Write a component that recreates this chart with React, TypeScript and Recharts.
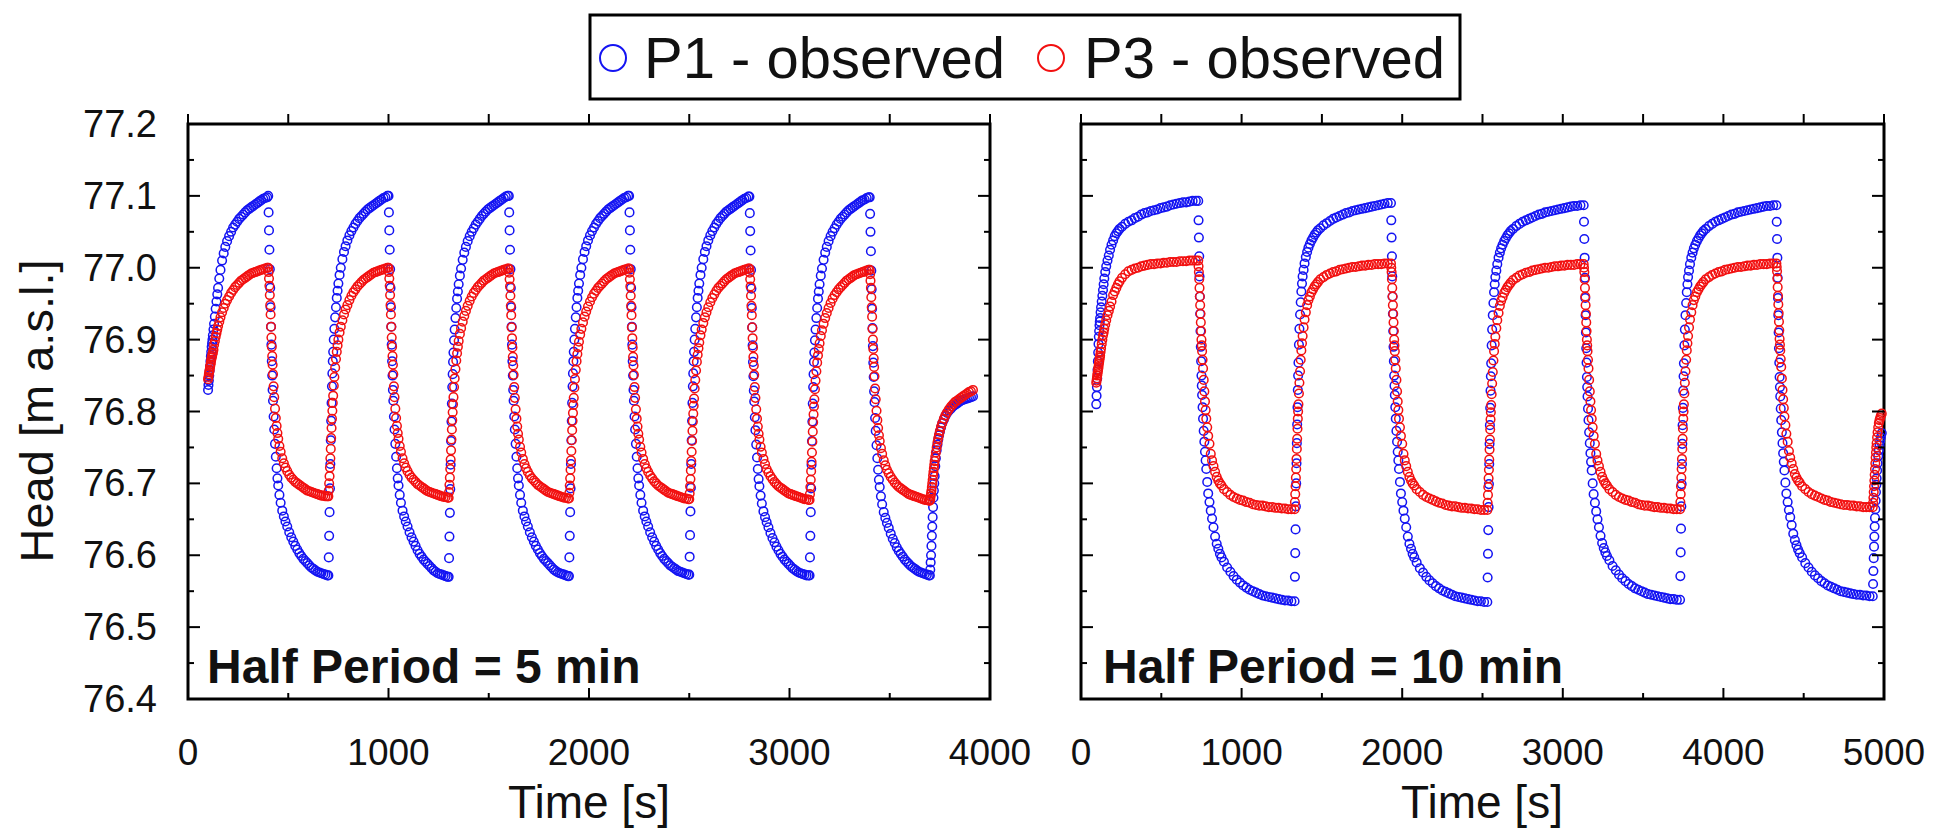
import React from "react"
import { ScatterChart, Scatter, XAxis, YAxis, ReferenceArea } from "recharts"

// sample times (s) inside each half period, left panel (half period = 300 s)
const leftTau = [0, 2, 4, 6, 8, 10, 12, 14, 16, 18, 20, 22, 24, 27, 30, 34, 38, 42, 46, 50, 56, 62, 70, 78, 86, 95, 105, 115, 125, 135, 145, 155, 165, 175, 185, 195, 205, 215, 225, 235, 245, 255, 265, 275, 285, 295]
const leftStarts = [100, 400, 700, 1000, 1300, 1600, 1900, 2200, 2500, 2800, 3100, 3400, 3700]

const leftP1 = [
  [76.83, 76.837, 76.843, 76.85, 76.857, 76.863, 76.87, 76.877, 76.883, 76.89, 76.895, 76.9, 76.906, 76.914, 76.922, 76.932, 76.943, 76.953, 76.963, 76.972, 76.985, 76.997, 77.01, 77.02, 77.029, 77.037, 77.044, 77.05, 77.056, 77.06, 77.064, 77.068, 77.071, 77.074, 77.077, 77.08, 77.082, 77.084, 77.086, 77.088, 77.09, 77.092, 77.094, 77.096, 77.097, 77.098],
  [77.1, 77.077, 77.052, 77.025, 76.998, 76.972, 76.945, 76.918, 76.893, 76.87, 76.85, 76.83, 76.815, 76.793, 76.775, 76.755, 76.737, 76.721, 76.707, 76.697, 76.684, 76.673, 76.662, 76.654, 76.647, 76.64, 76.632, 76.625, 76.619, 76.613, 76.608, 76.603, 76.599, 76.595, 76.592, 76.589, 76.586, 76.583, 76.581, 76.579, 76.577, 76.576, 76.575, 76.574, 76.573, 76.572],
  [76.572, 76.597, 76.627, 76.66, 76.693, 76.727, 76.76, 76.787, 76.812, 76.835, 76.853, 76.87, 76.883, 76.9, 76.915, 76.931, 76.945, 76.958, 76.968, 76.978, 76.99, 77.0, 77.012, 77.022, 77.03, 77.038, 77.045, 77.051, 77.056, 77.061, 77.065, 77.069, 77.072, 77.075, 77.078, 77.081, 77.083, 77.085, 77.087, 77.089, 77.091, 77.093, 77.095, 77.097, 77.098, 77.1],
  [77.1, 77.077, 77.052, 77.025, 76.998, 76.972, 76.945, 76.918, 76.893, 76.87, 76.85, 76.83, 76.815, 76.793, 76.775, 76.755, 76.737, 76.721, 76.707, 76.697, 76.684, 76.673, 76.662, 76.654, 76.647, 76.64, 76.632, 76.625, 76.619, 76.613, 76.607, 76.602, 76.598, 76.594, 76.591, 76.588, 76.585, 76.582, 76.579, 76.577, 76.575, 76.574, 76.573, 76.572, 76.571, 76.57],
  [76.57, 76.596, 76.626, 76.659, 76.692, 76.726, 76.759, 76.786, 76.811, 76.834, 76.852, 76.869, 76.882, 76.899, 76.914, 76.93, 76.944, 76.957, 76.967, 76.977, 76.989, 76.999, 77.011, 77.021, 77.029, 77.037, 77.044, 77.05, 77.055, 77.06, 77.064, 77.068, 77.072, 77.075, 77.078, 77.081, 77.083, 77.085, 77.087, 77.089, 77.091, 77.093, 77.095, 77.097, 77.099, 77.1],
  [77.1, 77.077, 77.052, 77.025, 76.998, 76.972, 76.945, 76.918, 76.893, 76.87, 76.85, 76.83, 76.815, 76.793, 76.775, 76.755, 76.737, 76.721, 76.707, 76.697, 76.684, 76.673, 76.662, 76.654, 76.647, 76.64, 76.632, 76.625, 76.619, 76.613, 76.608, 76.603, 76.599, 76.595, 76.592, 76.589, 76.586, 76.583, 76.58, 76.578, 76.576, 76.575, 76.574, 76.573, 76.572, 76.571],
  [76.571, 76.597, 76.627, 76.66, 76.693, 76.727, 76.76, 76.787, 76.812, 76.835, 76.853, 76.87, 76.883, 76.9, 76.915, 76.931, 76.945, 76.958, 76.968, 76.978, 76.99, 77.0, 77.012, 77.022, 77.03, 77.038, 77.045, 77.051, 77.056, 77.061, 77.065, 77.069, 77.072, 77.075, 77.078, 77.081, 77.083, 77.085, 77.087, 77.089, 77.091, 77.093, 77.095, 77.097, 77.098, 77.1],
  [77.1, 77.077, 77.052, 77.025, 76.998, 76.972, 76.945, 76.918, 76.893, 76.87, 76.85, 76.83, 76.815, 76.793, 76.775, 76.755, 76.737, 76.721, 76.707, 76.697, 76.684, 76.673, 76.662, 76.654, 76.647, 76.64, 76.632, 76.625, 76.619, 76.613, 76.608, 76.603, 76.599, 76.595, 76.592, 76.589, 76.586, 76.584, 76.582, 76.58, 76.578, 76.577, 76.576, 76.575, 76.574, 76.573],
  [76.573, 76.598, 76.628, 76.661, 76.694, 76.727, 76.76, 76.787, 76.812, 76.835, 76.853, 76.87, 76.883, 76.9, 76.915, 76.931, 76.945, 76.958, 76.968, 76.978, 76.99, 77.0, 77.012, 77.022, 77.03, 77.038, 77.045, 77.051, 77.056, 77.061, 77.065, 77.069, 77.072, 77.075, 77.078, 77.08, 77.082, 77.084, 77.086, 77.088, 77.09, 77.092, 77.094, 77.096, 77.097, 77.099],
  [77.099, 77.076, 77.051, 77.024, 76.997, 76.971, 76.944, 76.917, 76.892, 76.869, 76.849, 76.829, 76.814, 76.792, 76.774, 76.754, 76.736, 76.72, 76.706, 76.696, 76.683, 76.672, 76.661, 76.653, 76.646, 76.639, 76.631, 76.624, 76.618, 76.612, 76.607, 76.602, 76.598, 76.594, 76.591, 76.588, 76.585, 76.582, 76.58, 76.578, 76.576, 76.575, 76.574, 76.573, 76.572, 76.572],
  [76.572, 76.597, 76.627, 76.66, 76.693, 76.726, 76.759, 76.786, 76.811, 76.834, 76.852, 76.869, 76.882, 76.899, 76.914, 76.93, 76.944, 76.957, 76.967, 76.977, 76.989, 76.999, 77.011, 77.021, 77.029, 77.037, 77.044, 77.05, 77.055, 77.06, 77.064, 77.068, 77.071, 77.074, 77.077, 77.08, 77.082, 77.084, 77.086, 77.088, 77.09, 77.092, 77.094, 77.095, 77.097, 77.098],
  [77.098, 77.075, 77.05, 77.023, 76.996, 76.97, 76.943, 76.916, 76.891, 76.868, 76.848, 76.828, 76.813, 76.791, 76.773, 76.753, 76.735, 76.719, 76.705, 76.695, 76.682, 76.671, 76.66, 76.652, 76.645, 76.638, 76.63, 76.623, 76.617, 76.611, 76.606, 76.602, 76.598, 76.594, 76.591, 76.588, 76.585, 76.583, 76.581, 76.579, 76.577, 76.576, 76.575, 76.574, 76.573, 76.572],
  [76.572, 76.58, 76.59, 76.6, 76.613, 76.627, 76.64, 76.653, 76.667, 76.68, 76.69, 76.7, 76.71, 76.724, 76.735, 76.746, 76.754, 76.761, 76.767, 76.772, 76.778, 76.784, 76.789, 76.794, 76.798, 76.801, 76.804, 76.807, 76.809, 76.811, 76.813, 76.815, 76.816, 76.817, 76.818, 76.819, 76.82, 76.821],
]

const leftP3 = [
  [76.845, 76.848, 76.852, 76.855, 76.858, 76.862, 76.865, 76.868, 76.872, 76.875, 76.877, 76.88, 76.882, 76.886, 76.893, 76.898, 76.904, 76.909, 76.914, 76.919, 76.925, 76.931, 76.938, 76.944, 76.95, 76.955, 76.96, 76.965, 76.969, 76.973, 76.976, 76.979, 76.982, 76.984, 76.986, 76.988, 76.99, 76.992, 76.993, 76.994, 76.995, 76.996, 76.997, 76.998, 76.999, 77.0],
  [77.0, 76.994, 76.985, 76.975, 76.962, 76.948, 76.935, 76.918, 76.903, 76.89, 76.877, 76.865, 76.852, 76.835, 76.82, 76.804, 76.791, 76.78, 76.77, 76.762, 76.752, 76.744, 76.735, 76.728, 76.722, 76.717, 76.712, 76.708, 76.705, 76.702, 76.7, 76.698, 76.696, 76.694, 76.692, 76.69, 76.689, 76.688, 76.687, 76.686, 76.685, 76.684, 76.683, 76.683, 76.682, 76.682],
  [76.682, 76.69, 76.7, 76.71, 76.722, 76.735, 76.748, 76.763, 76.777, 76.79, 76.801, 76.812, 76.822, 76.836, 76.848, 76.861, 76.873, 76.883, 76.892, 76.9, 76.91, 76.918, 76.927, 76.935, 76.942, 76.948, 76.955, 76.961, 76.966, 76.97, 76.974, 76.977, 76.98, 76.983, 76.985, 76.987, 76.989, 76.991, 76.993, 76.994, 76.995, 76.996, 76.997, 76.998, 76.999, 77.0],
  [77.0, 76.994, 76.985, 76.975, 76.962, 76.948, 76.935, 76.918, 76.903, 76.89, 76.877, 76.865, 76.852, 76.835, 76.82, 76.804, 76.791, 76.78, 76.77, 76.762, 76.752, 76.744, 76.735, 76.728, 76.722, 76.717, 76.712, 76.708, 76.705, 76.702, 76.699, 76.697, 76.695, 76.693, 76.691, 76.689, 76.688, 76.687, 76.686, 76.685, 76.684, 76.683, 76.682, 76.681, 76.681, 76.68],
  [76.68, 76.688, 76.698, 76.708, 76.72, 76.733, 76.746, 76.761, 76.775, 76.788, 76.799, 76.81, 76.82, 76.834, 76.846, 76.859, 76.871, 76.881, 76.89, 76.898, 76.908, 76.916, 76.925, 76.933, 76.94, 76.947, 76.954, 76.96, 76.965, 76.969, 76.973, 76.976, 76.979, 76.982, 76.984, 76.986, 76.988, 76.99, 76.992, 76.993, 76.994, 76.995, 76.996, 76.997, 76.998, 76.999],
  [76.999, 76.993, 76.984, 76.974, 76.961, 76.947, 76.934, 76.917, 76.902, 76.889, 76.876, 76.864, 76.851, 76.834, 76.819, 76.803, 76.79, 76.779, 76.769, 76.761, 76.751, 76.743, 76.734, 76.727, 76.721, 76.716, 76.711, 76.707, 76.704, 76.701, 76.698, 76.696, 76.694, 76.692, 76.69, 76.688, 76.687, 76.686, 76.685, 76.684, 76.683, 76.682, 76.681, 76.68, 76.68, 76.679],
  [76.679, 76.687, 76.697, 76.707, 76.719, 76.732, 76.745, 76.76, 76.774, 76.787, 76.798, 76.809, 76.819, 76.833, 76.845, 76.858, 76.87, 76.88, 76.889, 76.897, 76.907, 76.915, 76.924, 76.932, 76.939, 76.946, 76.953, 76.959, 76.964, 76.968, 76.972, 76.975, 76.978, 76.981, 76.984, 76.986, 76.988, 76.99, 76.992, 76.993, 76.994, 76.995, 76.996, 76.997, 76.998, 76.999],
  [76.999, 76.993, 76.984, 76.974, 76.961, 76.947, 76.934, 76.917, 76.902, 76.889, 76.876, 76.864, 76.851, 76.834, 76.819, 76.803, 76.79, 76.779, 76.769, 76.761, 76.751, 76.743, 76.734, 76.727, 76.721, 76.716, 76.711, 76.707, 76.703, 76.7, 76.697, 76.695, 76.693, 76.691, 76.689, 76.687, 76.686, 76.685, 76.684, 76.683, 76.682, 76.681, 76.68, 76.679, 76.679, 76.678],
  [76.678, 76.686, 76.696, 76.706, 76.718, 76.731, 76.744, 76.759, 76.773, 76.786, 76.797, 76.808, 76.818, 76.832, 76.844, 76.857, 76.869, 76.879, 76.888, 76.896, 76.906, 76.914, 76.923, 76.931, 76.938, 76.945, 76.952, 76.958, 76.963, 76.968, 76.972, 76.975, 76.978, 76.981, 76.984, 76.986, 76.988, 76.99, 76.992, 76.993, 76.994, 76.995, 76.996, 76.997, 76.998, 76.999],
  [76.999, 76.993, 76.984, 76.974, 76.961, 76.947, 76.934, 76.917, 76.902, 76.889, 76.876, 76.864, 76.851, 76.834, 76.819, 76.803, 76.79, 76.779, 76.769, 76.761, 76.751, 76.743, 76.734, 76.727, 76.72, 76.715, 76.71, 76.706, 76.702, 76.699, 76.696, 76.694, 76.692, 76.69, 76.688, 76.686, 76.685, 76.684, 76.683, 76.682, 76.681, 76.68, 76.679, 76.678, 76.678, 76.677],
  [76.677, 76.685, 76.695, 76.705, 76.717, 76.73, 76.743, 76.758, 76.772, 76.785, 76.796, 76.807, 76.817, 76.831, 76.843, 76.856, 76.868, 76.878, 76.887, 76.895, 76.905, 76.913, 76.922, 76.93, 76.937, 76.944, 76.951, 76.957, 76.962, 76.966, 76.97, 76.973, 76.976, 76.979, 76.982, 76.984, 76.986, 76.988, 76.99, 76.991, 76.992, 76.993, 76.994, 76.995, 76.996, 76.997],
  [76.997, 76.991, 76.982, 76.972, 76.959, 76.945, 76.932, 76.915, 76.9, 76.887, 76.874, 76.862, 76.849, 76.832, 76.817, 76.801, 76.788, 76.777, 76.767, 76.759, 76.749, 76.741, 76.732, 76.725, 76.719, 76.714, 76.709, 76.705, 76.701, 76.698, 76.695, 76.693, 76.691, 76.689, 76.687, 76.685, 76.684, 76.683, 76.682, 76.681, 76.68, 76.679, 76.678, 76.677, 76.677, 76.676],
  [76.676, 76.678, 76.682, 76.686, 76.69, 76.695, 76.7, 76.705, 76.711, 76.716, 76.721, 76.726, 76.731, 76.737, 76.743, 76.75, 76.757, 76.763, 76.768, 76.773, 76.779, 76.784, 76.79, 76.795, 76.799, 76.803, 76.807, 76.81, 76.813, 76.815, 76.817, 76.819, 76.821, 76.823, 76.825, 76.827, 76.828, 76.83],
]

// right panel (half period = 600 s)
const rightTau = [0, 2, 4, 6, 8, 10, 12, 14, 16, 18, 20, 22, 24, 27, 30, 34, 38, 42, 46, 50, 56, 62, 70, 78, 86, 95, 105, 115, 125, 135, 145, 160, 180, 200, 220, 240, 260, 280, 300, 320, 340, 360, 380, 400, 420, 440, 460, 480, 500, 520, 540, 560, 580, 600, 620]
const rightStarts = [95, 730, 1330, 1930, 2530, 3130, 3730, 4330, 4930]

const rightP1 = [
  [76.81, 76.822, 76.834, 76.846, 76.858, 76.87, 76.882, 76.894, 76.904, 76.912, 76.92, 76.925, 76.93, 76.938, 76.945, 76.953, 76.961, 76.969, 76.977, 76.985, 76.994, 77.002, 77.01, 77.017, 77.025, 77.032, 77.038, 77.044, 77.048, 77.051, 77.054, 77.057, 77.061, 77.064, 77.066, 77.069, 77.071, 77.074, 77.076, 77.077, 77.079, 77.08, 77.081, 77.083, 77.084, 77.085, 77.087, 77.088, 77.089, 77.09, 77.091, 77.091, 77.092, 77.093, 77.093],
  [77.093, 77.066, 77.042, 77.016, 76.988, 76.96, 76.936, 76.912, 76.89, 76.87, 76.85, 76.836, 76.823, 76.806, 76.79, 76.773, 76.758, 76.744, 76.732, 76.72, 76.702, 76.686, 76.674, 76.662, 76.651, 76.639, 76.626, 76.616, 76.609, 76.602, 76.597, 76.591, 76.583, 76.577, 76.571, 76.566, 76.562, 76.558, 76.555, 76.552, 76.55, 76.548, 76.546, 76.544, 76.543, 76.542, 76.541, 76.54, 76.539, 76.538, 76.537, 76.537, 76.536],
  [76.536, 76.57, 76.603, 76.636, 76.668, 76.7, 76.728, 76.756, 76.782, 76.806, 76.83, 76.85, 76.868, 76.893, 76.915, 76.935, 76.952, 76.967, 76.978, 76.988, 76.997, 77.006, 77.015, 77.022, 77.028, 77.033, 77.038, 77.042, 77.046, 77.049, 77.052, 77.055, 77.059, 77.062, 77.065, 77.068, 77.07, 77.072, 77.074, 77.076, 77.077, 77.079, 77.08, 77.081, 77.082, 77.083, 77.084, 77.085, 77.086, 77.087, 77.088, 77.089, 77.09],
  [77.09, 77.066, 77.042, 77.016, 76.988, 76.96, 76.936, 76.912, 76.89, 76.87, 76.85, 76.836, 76.823, 76.806, 76.79, 76.773, 76.758, 76.744, 76.732, 76.72, 76.702, 76.686, 76.674, 76.662, 76.651, 76.639, 76.626, 76.616, 76.609, 76.602, 76.597, 76.59, 76.582, 76.576, 76.57, 76.565, 76.561, 76.557, 76.554, 76.551, 76.549, 76.547, 76.545, 76.543, 76.542, 76.541, 76.54, 76.539, 76.538, 76.537, 76.536, 76.536, 76.535],
  [76.535, 76.569, 76.602, 76.635, 76.667, 76.699, 76.727, 76.755, 76.781, 76.805, 76.829, 76.849, 76.867, 76.892, 76.914, 76.934, 76.951, 76.966, 76.977, 76.987, 76.996, 77.005, 77.014, 77.021, 77.027, 77.032, 77.037, 77.041, 77.045, 77.048, 77.051, 77.054, 77.058, 77.061, 77.064, 77.066, 77.068, 77.07, 77.072, 77.074, 77.075, 77.077, 77.078, 77.079, 77.08, 77.081, 77.082, 77.083, 77.084, 77.085, 77.086, 77.086, 77.087],
  [77.087, 77.064, 77.04, 77.014, 76.986, 76.958, 76.934, 76.91, 76.888, 76.868, 76.848, 76.834, 76.821, 76.804, 76.788, 76.771, 76.756, 76.742, 76.73, 76.718, 76.7, 76.685, 76.673, 76.661, 76.65, 76.639, 76.627, 76.617, 76.61, 76.604, 76.599, 76.593, 76.585, 76.579, 76.573, 76.568, 76.564, 76.56, 76.557, 76.554, 76.552, 76.55, 76.548, 76.546, 76.545, 76.544, 76.543, 76.542, 76.541, 76.54, 76.539, 76.539, 76.538],
  [76.538, 76.571, 76.604, 76.637, 76.668, 76.699, 76.727, 76.755, 76.781, 76.805, 76.829, 76.849, 76.867, 76.892, 76.914, 76.934, 76.951, 76.966, 76.977, 76.987, 76.996, 77.005, 77.014, 77.021, 77.027, 77.032, 77.037, 77.041, 77.045, 77.048, 77.051, 77.054, 77.058, 77.061, 77.064, 77.066, 77.068, 77.07, 77.072, 77.074, 77.075, 77.077, 77.078, 77.079, 77.08, 77.081, 77.082, 77.083, 77.084, 77.085, 77.086, 77.086, 77.087],
  [77.087, 77.064, 77.04, 77.014, 76.986, 76.958, 76.934, 76.91, 76.888, 76.868, 76.848, 76.834, 76.821, 76.804, 76.788, 76.771, 76.756, 76.742, 76.73, 76.718, 76.701, 76.686, 76.674, 76.663, 76.653, 76.642, 76.63, 76.621, 76.614, 76.608, 76.603, 76.597, 76.589, 76.583, 76.577, 76.572, 76.568, 76.564, 76.561, 76.558, 76.556, 76.554, 76.552, 76.55, 76.549, 76.548, 76.547, 76.546, 76.545, 76.545, 76.544, 76.544, 76.543],
  [76.543, 76.56, 76.578, 76.596, 76.612, 76.626, 76.64, 76.652, 76.664, 76.676, 76.688, 76.698, 76.707, 76.718, 76.728, 76.738, 76.746, 76.753, 76.759, 76.764, 76.77],
]

const rightP3 = [
  [76.84, 76.843, 76.846, 76.85, 76.853, 76.856, 76.859, 76.862, 76.866, 76.869, 76.872, 76.875, 76.878, 76.883, 76.888, 76.894, 76.9, 76.906, 76.91, 76.915, 76.921, 76.927, 76.934, 76.94, 76.946, 76.953, 76.962, 76.967, 76.972, 76.977, 76.981, 76.986, 76.991, 76.995, 76.997, 76.999, 77.0, 77.002, 77.003, 77.004, 77.005, 77.005, 77.006, 77.006, 77.007, 77.007, 77.008, 77.008, 77.008, 77.009, 77.009, 77.009, 77.01, 77.01, 77.01],
  [77.01, 77.002, 76.994, 76.984, 76.972, 76.96, 76.948, 76.936, 76.924, 76.912, 76.9, 76.892, 76.884, 76.872, 76.86, 76.844, 76.828, 76.814, 76.802, 76.79, 76.778, 76.766, 76.755, 76.741, 76.732, 76.724, 76.716, 76.709, 76.704, 76.7, 76.697, 76.692, 76.688, 76.684, 76.681, 76.679, 76.677, 76.676, 76.674, 76.673, 76.671, 76.67, 76.669, 76.669, 76.668, 76.667, 76.667, 76.666, 76.666, 76.665, 76.665, 76.664, 76.664],
  [76.664, 76.674, 76.685, 76.696, 76.708, 76.72, 76.734, 76.748, 76.762, 76.776, 76.79, 76.8, 76.81, 76.825, 76.84, 76.856, 76.872, 76.885, 76.895, 76.905, 76.917, 76.928, 76.938, 76.948, 76.955, 76.96, 76.966, 76.97, 76.974, 76.977, 76.98, 76.984, 76.987, 76.99, 76.992, 76.994, 76.995, 76.997, 76.998, 76.999, 77.0, 77.001, 77.001, 77.002, 77.003, 77.003, 77.004, 77.004, 77.005, 77.005, 77.005, 77.006, 77.006],
  [77.006, 77.0, 76.994, 76.984, 76.972, 76.96, 76.948, 76.936, 76.924, 76.912, 76.9, 76.892, 76.884, 76.872, 76.86, 76.844, 76.828, 76.814, 76.802, 76.79, 76.778, 76.766, 76.755, 76.741, 76.732, 76.724, 76.716, 76.709, 76.704, 76.7, 76.697, 76.692, 76.688, 76.684, 76.681, 76.679, 76.677, 76.675, 76.673, 76.672, 76.67, 76.669, 76.668, 76.668, 76.667, 76.666, 76.666, 76.665, 76.665, 76.664, 76.664, 76.663, 76.663],
  [76.663, 76.673, 76.684, 76.695, 76.707, 76.719, 76.733, 76.747, 76.761, 76.775, 76.789, 76.799, 76.809, 76.824, 76.839, 76.855, 76.871, 76.884, 76.894, 76.904, 76.916, 76.927, 76.937, 76.947, 76.954, 76.959, 76.965, 76.969, 76.973, 76.976, 76.979, 76.983, 76.986, 76.989, 76.991, 76.993, 76.994, 76.996, 76.997, 76.998, 76.999, 77.0, 77.0, 77.001, 77.002, 77.002, 77.003, 77.003, 77.004, 77.004, 77.004, 77.005, 77.005],
  [77.005, 77.0, 76.994, 76.984, 76.972, 76.96, 76.948, 76.936, 76.924, 76.912, 76.9, 76.892, 76.884, 76.872, 76.86, 76.844, 76.828, 76.814, 76.802, 76.79, 76.778, 76.766, 76.755, 76.741, 76.732, 76.724, 76.716, 76.709, 76.704, 76.7, 76.697, 76.692, 76.688, 76.684, 76.681, 76.679, 76.677, 76.676, 76.674, 76.673, 76.671, 76.67, 76.669, 76.669, 76.668, 76.667, 76.667, 76.666, 76.666, 76.665, 76.665, 76.664, 76.664],
  [76.664, 76.674, 76.685, 76.696, 76.708, 76.72, 76.734, 76.748, 76.762, 76.776, 76.79, 76.8, 76.81, 76.825, 76.84, 76.856, 76.872, 76.885, 76.895, 76.905, 76.917, 76.928, 76.938, 76.948, 76.955, 76.96, 76.966, 76.97, 76.974, 76.977, 76.98, 76.984, 76.987, 76.99, 76.992, 76.994, 76.995, 76.997, 76.998, 76.999, 77.0, 77.001, 77.001, 77.002, 77.003, 77.003, 77.004, 77.004, 77.005, 77.005, 77.005, 77.006, 77.006],
  [77.006, 77.001, 76.995, 76.985, 76.973, 76.961, 76.949, 76.937, 76.925, 76.913, 76.901, 76.893, 76.885, 76.873, 76.862, 76.846, 76.83, 76.817, 76.805, 76.793, 76.781, 76.769, 76.758, 76.745, 76.736, 76.728, 76.72, 76.713, 76.708, 76.704, 76.701, 76.696, 76.692, 76.688, 76.685, 76.683, 76.681, 76.679, 76.677, 76.676, 76.674, 76.673, 76.672, 76.671, 76.67, 76.67, 76.669, 76.669, 76.668, 76.668, 76.667, 76.667, 76.667],
  [76.667, 76.673, 76.68, 76.688, 76.696, 76.704, 76.712, 76.72, 76.728, 76.736, 76.743, 76.75, 76.756, 76.764, 76.771, 76.778, 76.784, 76.788, 76.791, 76.794, 76.797],
]

const yTicks = [76.4, 76.45, 76.5, 76.55, 76.6, 76.65, 76.7, 76.75, 76.8, 76.85, 76.9, 76.95, 77.0, 77.05, 77.1, 77.15, 77.2]
const leftXTicks = [0, 500, 1000, 1500, 2000, 2500, 3000, 3500, 4000]
const rightXTicks = [0, 500, 1000, 1500, 2000, 2500, 3000, 3500, 4000, 4500, 5000]

const FONT = "'Liberation Sans', Arial, sans-serif"
const TOP = 124
const BOTTOM = 699
const BLUE = "#1414f2"
const RED = "#f21010"

function buildPoints(starts: number[], tau: number[], phases: number[][]) {
  const out: { t: number; h: number }[] = []
  phases.forEach((vals, i) => {
    vals.forEach((v, j) => {
      if (tau[j] !== undefined) out.push({ t: starts[i] + tau[j], h: v })
    })
  })
  return out
}

const makeXTick = () => (props: any) => {
  const { x, payload } = props
  const v = payload.value
  const major = v % 1000 === 0
  return (
    <g>
      <line x1={x} x2={x} y1={BOTTOM} y2={BOTTOM - (major ? 11 : 6)} stroke="#000" strokeWidth={2} />
      <line x1={x} x2={x} y1={TOP} y2={TOP - 10} stroke="#000" strokeWidth={2} />
      {major && (
        <text x={x} y={765} textAnchor="middle" fontSize={37} fontFamily={FONT} fill="#111">
          {v}
        </text>
      )}
    </g>
  )
}

const makeYTick = (left: number, right: number, labels: boolean) => (props: any) => {
  const { y, payload } = props
  const v = payload.value
  const major = Math.abs(v * 10 - Math.round(v * 10)) < 1e-6
  const len = major ? 12 : 6
  return (
    <g>
      <line x1={left} x2={left + len} y1={y} y2={y} stroke="#000" strokeWidth={2} />
      <line x1={right} x2={right - len} y1={y} y2={y} stroke="#000" strokeWidth={2} />
      {labels && major && (
        <text x={left - 31} y={y + 13} textAnchor="end" fontSize={38} fontFamily={FONT} fill="#111">
          {v.toFixed(1)}
        </text>
      )}
    </g>
  )
}

const circle = (color: string) => (props: any) => (
  <circle cx={props.cx} cy={props.cy} r={4.3} fill="none" stroke={color} strokeWidth={1.5} />
)

interface PanelProps {
  left: number
  width: number
  plotLeft: number
  plotRight: number
  xMax: number
  xTicks: number[]
  p1: { t: number; h: number }[]
  p3: { t: number; h: number }[]
  labels: boolean
}

function Panel({ left, width, plotLeft, plotRight, xMax, xTicks, p1, p3, labels }: PanelProps) {
  return (
    <div style={{ position: "absolute", left, top: 0 }}>
      <ScatterChart
        width={width}
        height={832}
        margin={{ top: TOP, bottom: 832 - BOTTOM - 10, left: plotLeft - 10, right: width - plotRight }}
      >
        <XAxis
          type="number"
          dataKey="t"
          domain={[0, xMax]}
          ticks={xTicks}
          interval={0}
          height={10}
          axisLine={false}
          tickLine={false}
          tick={makeXTick()}
        />
        <YAxis
          type="number"
          dataKey="h"
          domain={[76.4, 77.2]}
          ticks={yTicks}
          interval={0}
          width={10}
          axisLine={false}
          tickLine={false}
          tick={makeYTick(plotLeft, plotRight, labels)}
        />
        <Scatter data={p1} isAnimationActive={false} shape={circle(BLUE)} />
        <Scatter data={p3} isAnimationActive={false} shape={circle(RED)} />
        <ReferenceArea x1={0} x2={xMax} y1={76.4} y2={77.2} fill="none" stroke="#000" strokeWidth={3} />
      </ScatterChart>
    </div>
  )
}

export default function App() {
  const lp1 = buildPoints(leftStarts, leftTau, leftP1)
  const lp3 = buildPoints(leftStarts, leftTau, leftP3)
  const rp1 = buildPoints(rightStarts, rightTau, rightP1)
  const rp3 = buildPoints(rightStarts, rightTau, rightP3)

  return (
    <div style={{ position: "absolute", left: 0, top: 0, width: 1935, height: 832, background: "#fff", fontFamily: FONT }}>
      <Panel left={0} width={1050} plotLeft={188} plotRight={990} xMax={4000} xTicks={leftXTicks} p1={lp1} p3={lp3} labels />
      <Panel left={1000} width={935} plotLeft={81} plotRight={884} xMax={5000} xTicks={rightXTicks} p1={rp1} p3={rp3} labels={false} />

      <svg width={1935} height={832} style={{ position: "absolute", left: 0, top: 0, pointerEvents: "none" }}>
        {/* legend */}
        <rect x={590} y={15} width={870} height={84} fill="#fff" stroke="#000" strokeWidth={3} />
        <circle cx={613} cy={58} r={13} fill="none" stroke={BLUE} strokeWidth={2} />
        <text x={644} y={78} fontSize={58} fontFamily={FONT} fill="#111">P1 - observed</text>
        <circle cx={1051} cy={58} r={13} fill="none" stroke={RED} strokeWidth={2} />
        <text x={1084} y={78} fontSize={58} fontFamily={FONT} fill="#111">P3 - observed</text>

        {/* axis titles */}
        <text transform="translate(53,411) rotate(-90)" textAnchor="middle" fontSize={47} fontFamily={FONT} fill="#111">
          Head [m a.s.l.]
        </text>
        <text x={589} y={818} textAnchor="middle" fontSize={46} fontFamily={FONT} fill="#111">Time [s]</text>
        <text x={1482} y={818} textAnchor="middle" fontSize={46} fontFamily={FONT} fill="#111">Time [s]</text>

        {/* panel notes */}
        <text x={207} y={683} fontSize={48} fontWeight="bold" fontFamily={FONT} fill="#111">Half Period = 5 min</text>
        <text x={1103} y={683} fontSize={48} fontWeight="bold" fontFamily={FONT} fill="#111">Half Period = 10 min</text>
      </svg>
    </div>
  )
}
